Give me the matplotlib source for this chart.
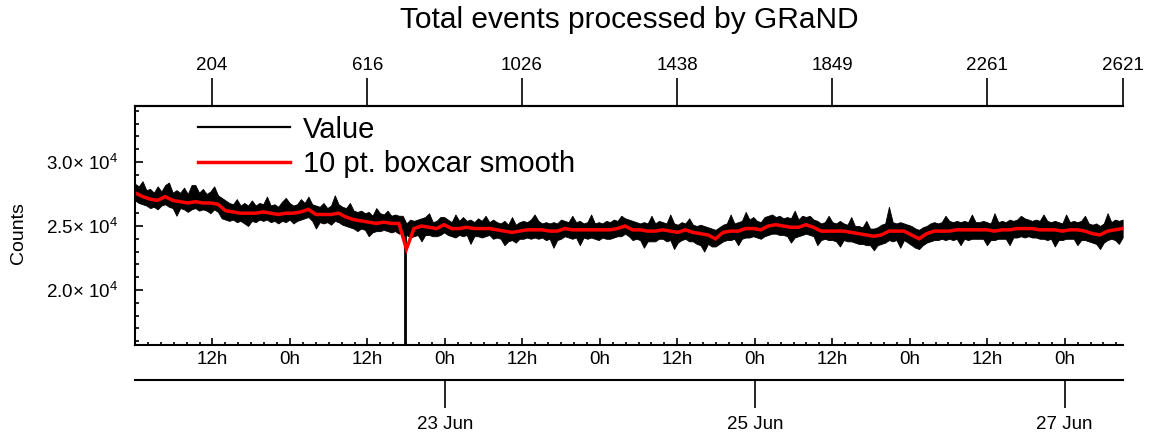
import datetime as dt

import matplotlib

matplotlib.use("Agg")

import matplotlib.dates as mdates
import matplotlib.pyplot as plt
import numpy as np
from matplotlib.lines import Line2D
from matplotlib.ticker import FixedLocator, FuncFormatter, NullLocator

# GRaND event stream, 21-27 Jun
START = dt.datetime(2011, 6, 21, 0, 0)
CADENCE_S = 210.2  # seconds between processed events
BIN_EVENTS = 10  # min/max of Value per 10 events
SMOOTH_STEP = 20  # smoothed curve read every 20 events

VALUE_HI = [
    28300, 28100, 28500, 27800, 27900, 27600, 28100, 27700, 28200, 28400, 27600, 27800, 27600,
    28000, 27500, 28200, 28200, 27600, 27900, 27500, 27700, 28100, 27400, 27200, 27000, 26800,
    26700, 27100, 26600, 26800, 26600, 27000, 26600, 26800, 26700, 27300, 26600, 26700, 26500,
    26900, 27200, 26800, 26600, 26700, 27100, 26800, 27300, 26700, 26600, 26500, 26800, 26400,
    26600, 27400, 26700, 26500, 26400, 26800, 26200, 26100, 26200, 26000, 26100, 25800, 26400,
    26000, 25900, 26200, 25800, 25900, 25800, 25800, 25200, 25500, 25400, 25500, 25600, 25700,
    26000, 25300, 25400, 25700, 25700, 25500, 25300, 25900, 25400, 25700, 25400, 25500, 25300,
    25600, 25400, 25800, 25300, 25500, 25300, 25200, 25400, 25100, 25700, 25100, 25300, 25400,
    25300, 25500, 25900, 25400, 25200, 25300, 25200, 25300, 25200, 25500, 25400, 25300, 25800,
    25300, 25400, 25200, 25300, 25900, 25200, 25300, 25200, 25400, 25300, 25500, 25400, 25800,
    25600, 25500, 25400, 25300, 25200, 25300, 25200, 25800, 25200, 25400, 25300, 25200, 25900,
    25200, 25100, 25300, 25200, 25600, 25100, 25000, 25100, 25000, 24900, 24800, 24700, 24900,
    25100, 25200, 25900, 25200, 25300, 25400, 26100, 25500, 25700, 25400, 25300, 25700, 25800,
    25900, 25700, 25800, 25600, 25700, 25600, 26200, 25500, 25800, 25700, 25800, 25500, 25400,
    25200, 25300, 25800, 25300, 25200, 25400, 25200, 25100, 25700, 25000, 25000, 24900, 25400,
    24800, 24800, 24900, 25100, 25200, 26500, 25300, 25200, 25300, 25200, 25100, 25000, 24800,
    24700, 24900, 25000, 25200, 25300, 25200, 25300, 25800, 25400, 25300, 25400, 25300, 25400,
    25300, 25900, 25300, 25300, 25400, 25300, 25200, 26000, 25300, 25400, 25300, 25500, 25400,
    25500, 25800, 25600, 25500, 25400, 25500, 25400, 25900, 25400, 25300, 25400, 25300, 25200,
    25900, 25300, 25400, 25300, 25400, 25800, 25200, 25100, 25200, 25000, 25200, 26000, 25300,
    25500, 25400, 25500,
]

VALUE_LO = [
    27000, 26800, 26700, 26600, 26400, 26500, 26300, 26600, 26700, 26500, 26400, 25800, 26400,
    26300, 26100, 26300, 26400, 26200, 26300, 26200, 26000, 26300, 26100, 25600, 25500, 25400,
    25500, 25300, 25400, 25200, 25000, 25400, 25300, 25500, 25400, 25500, 25300, 25400, 25200,
    25400, 25300, 25500, 25200, 25400, 25500, 25600, 25700, 25400, 24800, 25300, 25200, 25300,
    25100, 25400, 25300, 25100, 25000, 24900, 24800, 24600, 24800, 24700, 24200, 24500, 24600,
    24600, 24700, 24600, 24500, 24600, 24400, 24500, 24300, 24100, 24200, 24300, 23800, 24300,
    24300, 24200, 24200, 24300, 24500, 24300, 24200, 24100, 24300, 24200, 24300, 23600, 24200,
    24200, 24100, 24200, 24300, 24000, 24100, 24000, 23500, 23800, 23900, 23700, 24000, 24000,
    24100, 24000, 24100, 24000, 24100, 23900, 24000, 23300, 23900, 24000, 24200, 24100, 24000,
    24100, 23500, 24100, 24000, 24100, 24000, 23900, 24100, 24000, 24000, 24100, 24200, 24200,
    24400, 24200, 23900, 24000, 23900, 23300, 23800, 23800, 23800, 24000, 24000, 23800, 23900,
    23200, 23700, 23900, 24000, 23800, 23800, 23600, 23500, 23000, 23600, 23400, 23400, 23600,
    23800, 23900, 23900, 24000, 23500, 24000, 24100, 24100, 24200, 24100, 24000, 24200, 24300,
    24400, 24400, 24300, 24300, 24200, 23700, 24100, 24200, 24300, 24400, 24300, 24200, 23500,
    23900, 24000, 23900, 23900, 23800, 23400, 23900, 23800, 23800, 23700, 23600, 23600, 23500,
    23500, 23100, 23500, 23600, 23700, 23900, 23800, 23900, 23300, 23900, 23700, 23500, 23300,
    23200, 23500, 23700, 23800, 23900, 23900, 24000, 23900, 24000, 23900, 24000, 23500, 24000,
    23900, 24000, 24000, 24000, 24000, 23500, 23900, 23900, 24000, 24000, 24000, 23500, 24100,
    24100, 24200, 24100, 24200, 24100, 24100, 24000, 24000, 23900, 24000, 23400, 23900, 23900,
    24000, 24000, 24000, 23500, 23900, 23900, 23800, 23700, 23600, 23200, 23700, 23900, 24000,
    23900, 23600, 24100,
]

# one dropped reading near 22 Jun 17h
DROPOUT_EVENT = 716
DROPOUT_VALUE = 9000

SMOOTH = [
    27600, 27300, 27100, 27000, 27300, 27000, 26900, 26800, 26900, 26800, 26800, 26700, 26200,
    26100, 26000, 26000, 26000, 26100, 26000, 25900, 26000, 26000, 26100, 26300, 25900, 25900,
    25900, 26000, 25700, 25500, 25400, 25300, 25200, 25300, 25200, 25200, 23200, 24800, 25000,
    24900, 24800, 25100, 24800, 24800, 24900, 24800, 24800, 24800, 24700, 24600, 24500, 24600,
    24700, 24700, 24700, 24600, 24600, 24800, 24700, 24700, 24700, 24700, 24700, 24700, 24800,
    25000, 24700, 24700, 24600, 24600, 24700, 24600, 24500, 24700, 24500, 24400, 24300, 24000,
    24500, 24600, 24600, 24800, 24800, 24700, 25000, 25100, 25000, 24900, 24900, 25100, 24900,
    24600, 24600, 24600, 24600, 24500, 24400, 24300, 24200, 24300, 24600, 24600, 24600, 24300,
    24000, 24400, 24600, 24600, 24600, 24700, 24700, 24700, 24700, 24700, 24600, 24700, 24700,
    24800, 24800, 24800, 24700, 24700, 24700, 24600, 24700, 24700, 24600, 24400, 24300, 24600,
    24700, 24800,
]

TOP_EVENTS = [204, 616, 1026, 1438, 1849, 2261, 2621]
Y_TICKS = [20000, 25000, 30000]
Y_TICK_LABELS = [r"2.0× $\mathregular{10^{4}}$", r"2.5× $\mathregular{10^{4}}$",
                 r"3.0× $\mathregular{10^{4}}$"]
DATE_TICKS = [dt.datetime(2011, 6, 23), dt.datetime(2011, 6, 25), dt.datetime(2011, 6, 27)]

NARROW = ["Liberation Sans Narrow", "Liberation Sans", "DejaVu Sans"]


def main() -> None:
    plt.rcParams["font.family"] = ["Liberation Sans", "DejaVu Sans"]
    plt.rcParams["mathtext.fontset"] = "custom"
    plt.rcParams["mathtext.rm"] = "Liberation Sans"

    d0 = mdates.date2num(START)
    day_per_event = CADENCE_S / 86400.0

    def ev_to_num(n):
        return d0 + np.asarray(n, float) * day_per_event

    def num_to_ev(x):
        return (np.asarray(x, float) - d0) / day_per_event

    x_bins = ev_to_num(np.arange(len(VALUE_HI)) * BIN_EVENTS)
    x_smooth = ev_to_num(np.arange(len(SMOOTH)) * SMOOTH_STEP)

    fig = plt.figure(figsize=(11.53, 4.41), dpi=100)
    ax = fig.add_axes([0.1171, 0.2177, 0.8569, 0.5420])

    ax.fill_between(x_bins, VALUE_LO, VALUE_HI, color="black", lw=0.6, edgecolor="black")
    drop_bin = DROPOUT_EVENT // BIN_EVENTS
    ax.vlines(ev_to_num(DROPOUT_EVENT), DROPOUT_VALUE, VALUE_LO[drop_bin], color="black", lw=2)
    ax.plot(x_smooth, SMOOTH, color="#ff0000", lw=2.5, solid_joinstyle="miter")

    ax.set_xlim(ev_to_num(0), ev_to_num(TOP_EVENTS[-1]))
    ax.set_ylim(15700, 34380)

    ax.spines["right"].set_visible(False)
    for side in ("left", "bottom", "top"):
        ax.spines[side].set_linewidth(1.5)

    # y axis
    ax.yaxis.set_major_locator(FixedLocator(Y_TICKS))
    ax.set_yticklabels(Y_TICK_LABELS)
    ax.yaxis.set_minor_locator(FixedLocator(np.arange(16000, 34001, 1000)))
    ax.tick_params(axis="y", which="major", direction="in", length=5.5, width=1.2,
                   labelsize=13.5, pad=12)
    ax.tick_params(axis="y", which="minor", direction="in", length=2.8, width=1.2)

    # bottom time axis
    def hour_label(v, p):
        if v - d0 < 0.01:
            return ""
        return f"{mdates.num2date(v).hour}h"

    ax.xaxis.set_major_locator(mdates.HourLocator(byhour=[0, 12]))
    ax.xaxis.set_minor_locator(mdates.HourLocator(byhour=range(0, 24, 2)))
    ax.xaxis.set_major_formatter(FuncFormatter(hour_label))
    ax.tick_params(axis="x", which="major", direction="in", length=5, width=1.2,
                   labelsize=13.5, pad=4, top=False, labelfontfamily=NARROW)
    ax.tick_params(axis="x", which="minor", direction="in", length=2.5, width=1.2, top=False)

    # top axis: events processed
    top = ax.secondary_xaxis("top", functions=(num_to_ev, ev_to_num))
    top.xaxis.set_major_locator(FixedLocator(TOP_EVENTS))
    top.xaxis.set_minor_locator(NullLocator())
    top.xaxis.set_major_formatter(FuncFormatter(lambda v, p: f"{v:.0f}"))
    top.tick_params(direction="out", length=20, width=1.2, labelsize=13.5, pad=3,
                    labelfontfamily=NARROW)
    top.spines["top"].set_linewidth(1.5)

    # second bottom axis: dates
    days = ax.secondary_xaxis(-(380 - 345) / 239)
    days.xaxis.set_major_locator(FixedLocator(mdates.date2num(DATE_TICKS)))
    days.xaxis.set_minor_locator(NullLocator())
    days.xaxis.set_major_formatter(mdates.DateFormatter("%d %b"))
    days.tick_params(direction="out", length=20, width=1.2, labelsize=13.5, pad=6,
                     labelfontfamily=NARROW)
    days.spines["bottom"].set_linewidth(1.5)

    fig.text(18 / 1153, 1 - 233 / 441, "Counts", rotation=90, ha="center", va="center",
             fontsize=14)
    fig.text(629 / 1153, 1 - 20 / 441, "Total events processed by GRaND", ha="center",
             va="center", fontsize=21.5)

    handles = [Line2D([], [], color="black", lw=1.6), Line2D([], [], color="#ff0000", lw=2.5)]
    ax.legend(handles, ["Value", "10 pt. boxcar smooth"], loc="upper left",
              bbox_to_anchor=(0.0638, 0.96), frameon=False, fontsize=21, borderpad=0,
              borderaxespad=0, handlelength=3.15, handletextpad=0.45, labelspacing=0.22)

    fig.savefig("out.png", dpi=100)


if __name__ == "__main__":
    main()
